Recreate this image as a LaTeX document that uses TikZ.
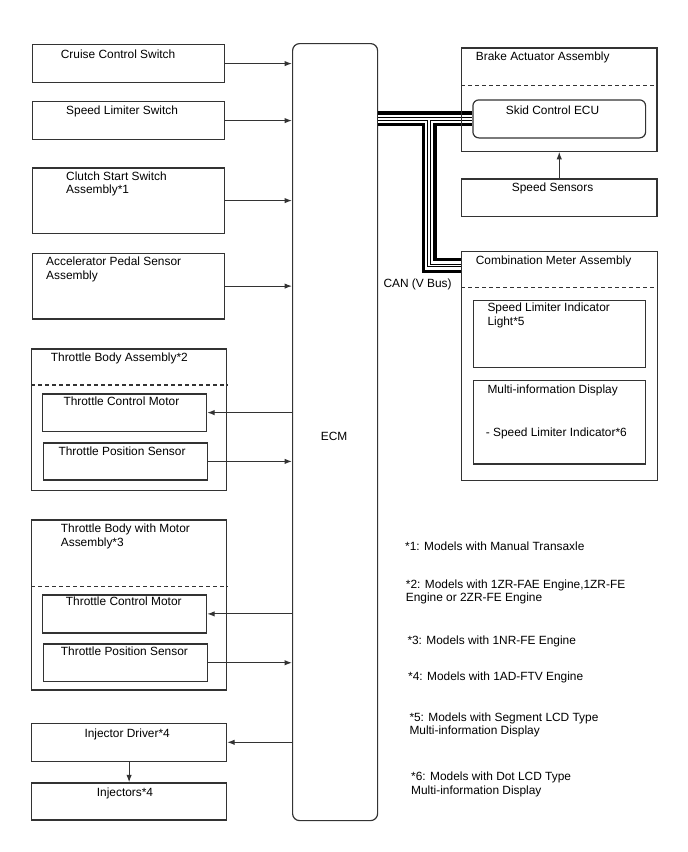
\documentclass[tikz,border=0pt]{standalone}
\usepackage{fontspec}
\setmainfont{Liberation Sans}
\usetikzlibrary{arrows.meta}
\definecolor{linecol}{HTML}{333333}
\begin{document}
\begin{tikzpicture}[x=1pt,y=-1pt,
  font=\fontsize{11.9}{13.4}\selectfont,
  box/.style={draw=linecol,line width=1.2pt,inner sep=0pt,anchor=north west},
  lbl/.style={anchor=base west,inner sep=0pt,align=left,text=black},
  arr/.style={draw=linecol,line width=1.1pt,-{Latex[length=7.5pt,width=5.5pt]}},
  dsh/.style={draw=linecol,line width=1.2pt,dash pattern=on 4pt off 3pt}]
\useasboundingbox (0,0) rectangle (688,852);

% ECM
\node[box,rounded corners=7pt,minimum width=85pt,minimum height=777pt] (ecm) at (292,43) {};
\node[lbl] (ecmt) at (320.7,440) {ECM};

% left column
\node[box,minimum width=192pt,minimum height=38pt] (cruise) at (32,44) {};
\node[lbl] (cruiset) at (60.7,58.3) {Cruise Control Switch};
\node[box,minimum width=192pt,minimum height=38pt] (slim) at (32,101) {};
\node[lbl] (slimt) at (66,114) {Speed Limiter Switch};
\node[box,minimum width=192pt,minimum height=65.4pt] (clutch) at (32,167.3) {};
\node[lbl] (clutcht) at (66,193.4) {Clutch Start Switch\\Assembly*1};
\node[box,minimum width=192pt,minimum height=65.6pt] (accel) at (32,252.7) {};
\node[lbl] (accelt) at (46,279.1) {Accelerator Pedal Sensor\\Assembly};

\node[box,minimum width=195pt,minimum height=141.7pt] (tb1) at (31,348.3) {};
\node[lbl] (tb1t) at (50.7,361.7) {Throttle Body Assembly*2};
\draw[dsh] (tb1.west |- 0,385) coordinate (d1a) -- (d1a -| tb1.east);
\node[box,minimum width=164pt,minimum height=37.4pt] (tcm1) at (42,393.3) {};
\node[lbl] (tcm1t) at (63.3,405) {Throttle Control Motor};
\node[box,minimum width=164pt,minimum height=37pt] (tps1) at (42.7,442.3) {};
\node[lbl] (tps1t) at (58.3,455) {Throttle Position Sensor};

\node[box,minimum width=195pt,minimum height=170pt] (tb2) at (31,519.3) {};
\node[lbl] (tb2t) at (60.7,546.1) {Throttle Body with Motor\\Assembly*3};
\draw[dsh] (tb2.west |- 0,586.7) coordinate (d2a) -- (d2a -| tb2.east);
\node[box,minimum width=164pt,minimum height=38pt] (tcm2) at (42,594.3) {};
\node[lbl] (tcm2t) at (65.7,605) {Throttle Control Motor};
\node[box,minimum width=164pt,minimum height=37.7pt] (tps2) at (42.7,643.3) {};
\node[lbl] (tps2t) at (60.7,655) {Throttle Position Sensor};

\node[box,minimum width=195pt,minimum height=38pt] (drv) at (31,722.7) {};
\node[lbl] (drvt) at (84.3,737.7) {Injector Driver*4};
\node[box,minimum width=195pt,minimum height=37pt] (inj) at (31,782.3) {};
\node[lbl] (injt) at (96.7,796.7) {Injectors*4};

% right column
\node[box,minimum width=172.7pt,minimum height=38pt,rounded corners=6pt] (skid) at (472.3,99.3) {};
\node[lbl] (skidt) at (505.7,114) {Skid Control ECU};
\coordinate (canj) at (429,118.3);
\coordinate (canb) at (429,265.5);
\coordinate (meterw) at (461,265.5);
\foreach \w/\c in {15/black,8.5/white,3.5/black,1.3/white}{
  \draw[line width=\w pt,\c,line join=miter] (skid.west -| ecm.east) -- (skid.west) (canj) -- (canb) -- (meterw);
}
\node[box,minimum width=195.3pt,minimum height=103.4pt] (brake) at (461,47.3) {};
\node[lbl] (braket) at (475.7,60.7) {Brake Actuator Assembly};
\draw[dsh] (brake.west |- 0,85.7) coordinate (d3a) -- (d3a -| brake.east);
\node[box,minimum width=195.3pt,minimum height=37.7pt] (ss) at (461,178.3) {};
\node[lbl] (sst) at (511.7,191.7) {Speed Sensors};

\node[box,minimum width=196pt,minimum height=229.3pt] (meter) at (461,250.7) {};
\node[lbl] (metert) at (475.7,264) {Combination Meter Assembly};
\draw[dsh] (meter.west |- 0,287.7) coordinate (d4a) -- (d4a -| meter.east);
\node[box,minimum width=172.3pt,minimum height=66.7pt] (sli) at (472.7,300) {};
\node[lbl] (slit) at (487.3,325.1) {Speed Limiter Indicator\\Light*5};
\node[box,minimum width=172.3pt,minimum height=83.3pt] (mid) at (472.7,380) {};
\node[lbl] (midt) at (487.3,393.3) {Multi-information Display};
\node[lbl] (midt2) at (485.7,436) {- Speed Limiter Indicator*6};

\node[lbl] (cant) at (383.3,287.3) {CAN (V Bus)};

% footnotes
\node[lbl] (n1) at (405,550.7) {*1: Models with Manual Transaxle};
\node[lbl] (n2) at (405.7,601.7) {*2: Models with 1ZR-FAE Engine,1ZR-FE\\Engine or 2ZR-FE Engine};
\node[lbl] (n3) at (407.3,644) {*3: Models with 1NR-FE Engine};
\node[lbl] (n4) at (408,680.7) {*4: Models with 1AD-FTV Engine};
\node[lbl] (n5) at (409.3,734.7) {*5: Models with Segment LCD Type\\Multi-information Display};
\node[lbl] (n6) at (411,794.1) {*6: Models with Dot LCD Type\\Multi-information Display};

% connectors
\draw[arr] (cruise.east) -- (cruise.east -| ecm.west);
\draw[arr] (slim.east) -- (slim.east -| ecm.west);
\draw[arr] (clutch.east) -- (clutch.east -| ecm.west);
\draw[arr] (accel.east) -- (accel.east -| ecm.west);
\draw[arr] (tcm1.east -| ecm.west) -- (tcm1.east);
\draw[arr] (tps1.east) -- (tps1.east -| ecm.west);
\draw[arr] (tcm2.east -| ecm.west) -- (tcm2.east);
\draw[arr] (tps2.east) -- (tps2.east -| ecm.west);
\draw[arr] (drv.east -| ecm.west) -- (drv.east);
\draw[arr] (drv.south) -- (inj.north);
\draw[arr] (ss.north) -- (ss.north |- brake.south);
\end{tikzpicture}
\end{document}
